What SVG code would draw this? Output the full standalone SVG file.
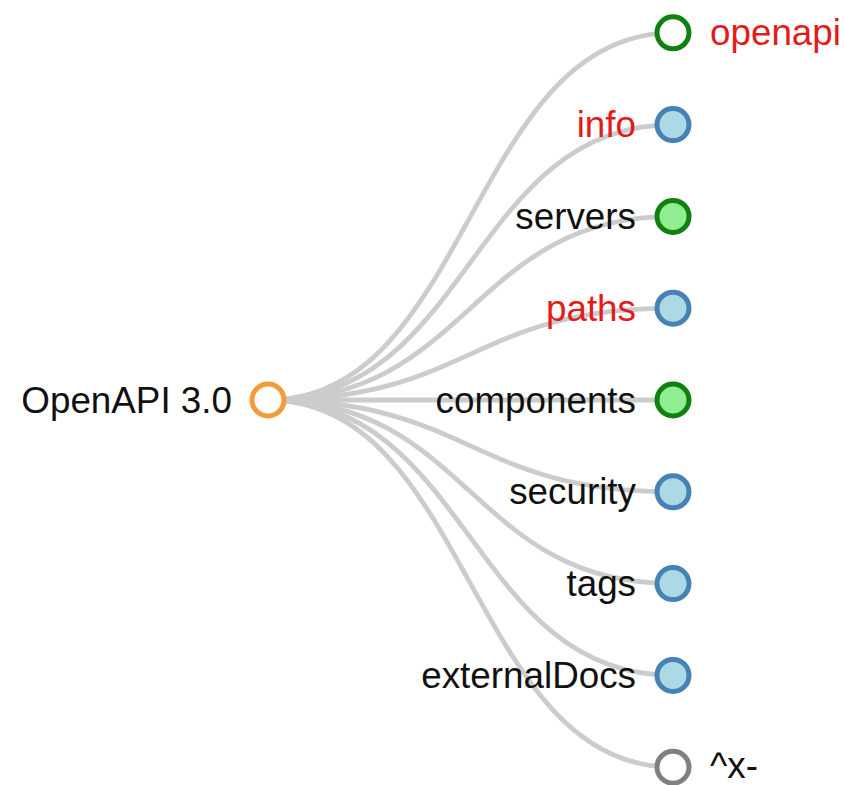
<svg xmlns="http://www.w3.org/2000/svg" width="844" height="785" viewBox="0 0 844 785">
<style>
.link{fill:none;stroke:#cccccc;stroke-width:4.8}
circle{stroke-width:5}
text{font-family:"Liberation Sans",Arial,sans-serif;font-size:36.8px;fill:#111}
.l{text-anchor:end}
.red{fill:#e31b1b}
.blue{fill:#add8e6;stroke:#4682b4}
.green{fill:#90ee90;stroke:#118011}
.greenO{fill:#fff;stroke:#118011}
.gray{fill:#fff;stroke:#808080}
.root{fill:#fff;stroke:#f39c3c}
</style>
<rect width="844" height="785" fill="#fff"/>
<g id="links">
<path class="link" d="M268,400C470.5,400 470.5,32.8 673,32.8"/>
<path class="link" d="M268,400C470.5,400 470.5,124.6 673,124.6"/>
<path class="link" d="M268,400C470.5,400 470.5,216.4 673,216.4"/>
<path class="link" d="M268,400C470.5,400 470.5,308.2 673,308.2"/>
<path class="link" d="M268,400C470.5,400 470.5,400 673,400"/>
<path class="link" d="M268,400C470.5,400 470.5,491.8 673,491.8"/>
<path class="link" d="M268,400C470.5,400 470.5,583.6 673,583.6"/>
<path class="link" d="M268,400C470.5,400 470.5,675.4 673,675.4"/>
<path class="link" d="M268,400C470.5,400 470.5,767.2 673,767.2"/>
</g>
<g id="root"><circle class="root" cx="268" cy="400" r="16"/><text class="l" x="232" y="412.6">OpenAPI 3.0</text></g>
<g id="openapi"><circle class="greenO" cx="673" cy="32.8" r="16"/><text class="red" x="710" y="45.4">openapi</text></g>
<g id="info"><circle class="blue" cx="673" cy="124.6" r="16"/><text class="l red" x="636" y="137.2">info</text></g>
<g id="servers"><circle class="green" cx="673" cy="216.4" r="16"/><text class="l" x="636" y="229">servers</text></g>
<g id="paths"><circle class="blue" cx="673" cy="308.2" r="16"/><text class="l red" x="636" y="320.8">paths</text></g>
<g id="components"><circle class="green" cx="673" cy="400" r="16"/><text class="l" x="636" y="412.6">components</text></g>
<g id="security"><circle class="blue" cx="673" cy="491.8" r="16"/><text class="l" x="636" y="504.4">security</text></g>
<g id="tags"><circle class="blue" cx="673" cy="583.6" r="16"/><text class="l" x="636" y="596.2">tags</text></g>
<g id="externalDocs"><circle class="blue" cx="673" cy="675.4" r="16"/><text class="l" x="636" y="688">externalDocs</text></g>
<g id="x-ext"><circle class="gray" cx="673" cy="767.2" r="16"/><text x="710" y="777.5">^x-</text></g>
</svg>
